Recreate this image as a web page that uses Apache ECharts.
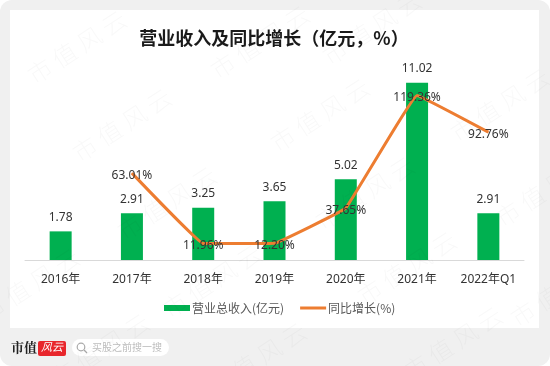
<!DOCTYPE html>
<html>
<head>
<meta charset="utf-8">
<style>
  html, body { margin: 0; padding: 0; background: #fff; }
  #chart { width: 550px; height: 366px; }
</style>
<script src="https://cdn.jsdelivr.net/npm/echarts@6/dist/echarts.min.js"></script>
</head>
<body>
<div id="chart"></div>
<script>
const categories = ['2016年', '2017年', '2018年', '2019年', '2020年', '2021年', '2022年Q1'];
const revenue = [1.78, 2.91, 3.25, 3.65, 5.02, 11.02, 2.91];
const growth = [null, 63.01, 11.96, 12.20, 37.65, 119.36, 92.76];
const font = '"Noto Sans", "Noto Sans CJK SC", sans-serif';
const cjk = '"Noto Sans CJK SC", sans-serif';

// watermark centres
const stamps = [[77,47],[122,125],[167,203],[212,281],[257,359],[260,42],[320,115],[365,193],[407,268],[453,343],
  [372,28],[500,105],[545,190],[30,285],[100,350],[560,290]];

const chart = echarts.init(document.getElementById('chart'), null, { renderer: 'canvas' });

const graphic = [
  { type: 'rect', z: -10, silent: true, shape: { x: 0, y: 0, width: 550, height: 366, r: 12 }, style: { fill: '#f0f0f0' } },
  { type: 'rect', z: -9, silent: true, shape: { x: 10, y: 10, width: 529, height: 318 }, style: { fill: '#fff' } },
  { type: 'text', z: 5, left: 11, top: 341, style: { text: '市值', font: 'bold 13px "Noto Serif CJK SC", "Noto Sans CJK SC", serif', fill: '#222' } },
  { type: 'rect', z: 5, silent: true, shape: { x: 38, y: 341, width: 28, height: 15, r: 2 }, style: { fill: '#e8262c' } },
  { type: 'text', z: 6, left: 41, top: 341, style: { text: '风云', font: 'italic 11px ' + cjk, fill: '#fff' } },
  { type: 'rect', z: 5, silent: true, shape: { x: 72, y: 339, width: 97, height: 17, r: 8.5 }, style: { fill: '#fff' } },
  { type: 'circle', z: 6, silent: true, shape: { cx: 81, cy: 347, r: 3.8 }, style: { fill: 'none', stroke: '#aaa', lineWidth: 1.2 } },
  { type: 'line', z: 6, silent: true, shape: { x1: 84, y1: 350, x2: 87, y2: 353 }, style: { stroke: '#aaa', lineWidth: 1.2 } },
  { type: 'text', z: 6, left: 92, top: 342, style: { text: '买股之前搜一搜', font: '10px ' + cjk, fill: '#bdbdbd' } }
];
stamps.forEach(([x, y]) => {
  graphic.push({
    type: 'text', z: 20, silent: true, x: x, y: y, rotation: 33 * Math.PI / 180,
    style: { text: '市 值 风 云', font: '200 24px ' + cjk, fill: 'rgba(0,0,0,0.028)', align: 'center', verticalAlign: 'middle' }
  });
});

chart.setOption({
  animation: false,
  backgroundColor: 'transparent',
  textStyle: { fontFamily: font },
  title: {
    text: '营业收入及同比增长（亿元，%）',
    left: 269,
    top: 24,
    textAlign: 'center',
    textStyle: { color: '#1a1a1a', fontSize: 18, fontWeight: 'bold', fontFamily: cjk }
  },
  legend: {
    left: 159,
    top: 297,
    itemWidth: 26,
    itemHeight: 6,
    itemGap: 16,
    textStyle: { color: '#595959', fontSize: 12, fontFamily: cjk, padding: [0, 0, 0, -3] },
    data: [
      { name: '营业总收入(亿元)', icon: 'rect' },
      { name: '同比增长(%)', icon: 'path://M0 0H26V3H0Z' }
    ]
  },
  grid: { left: 25, right: 26, top: 67, bottom: 106 },
  xAxis: {
    type: 'category',
    data: categories,
    axisLine: { lineStyle: { color: '#d9d9d9', width: 1 } },
    axisTick: { show: false },
    axisLabel: { color: '#333', fontSize: 12, margin: 14, interval: 0, fontFamily: font }
  },
  yAxis: [
    { type: 'value', min: 0, max: 12, show: false, splitLine: { show: false } },
    { type: 'value', min: 0, max: 140, show: false, splitLine: { show: false } }
  ],
  series: [
    {
      name: '营业总收入(亿元)',
      type: 'bar',
      data: revenue,
      barWidth: 22,
      itemStyle: { color: '#00b050' },
      label: { show: true, position: 'top', distance: 8, color: '#333', fontSize: 12, formatter: p => p.value.toFixed(2) }
    },
    {
      name: '同比增长(%)',
      type: 'line',
      yAxisIndex: 1,
      data: growth,
      smooth: 0.05,
      symbol: 'circle',
      symbolSize: 1,
      showSymbol: true,
      lineStyle: { color: '#ed7d31', width: 3 },
      itemStyle: { color: '#ed7d31' },
      label: { show: true, position: 'inside', offset: [0, 2], color: '#333', fontSize: 12, formatter: p => p.value.toFixed(2) + '%' },
      z: 3
    }
  ],
  graphic: graphic
});
</script>
</body>
</html>
